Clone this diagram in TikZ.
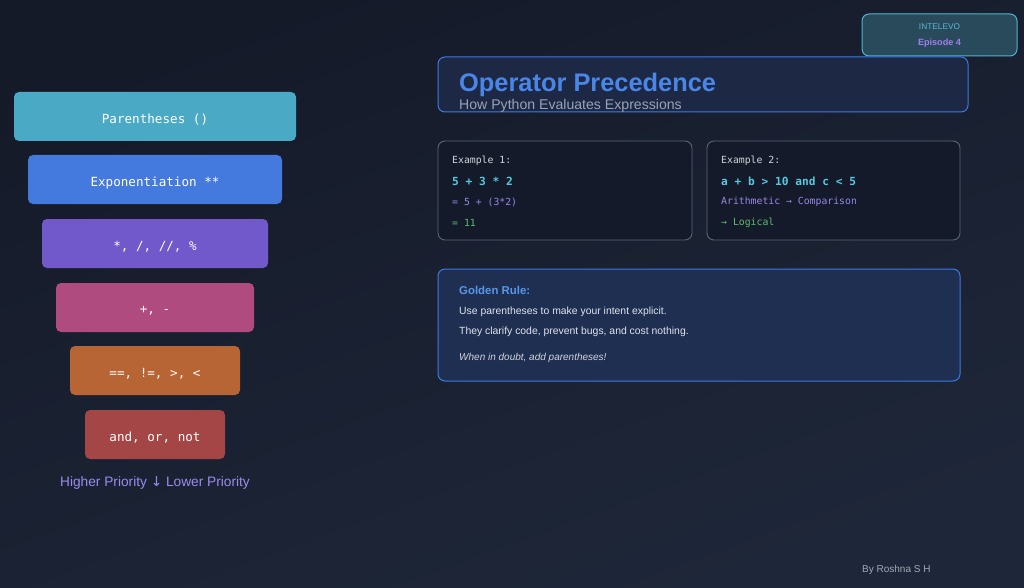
\documentclass[tikz,border=0pt]{standalone}
\usepackage{fontspec}
\setmainfont{Liberation Sans}
\newfontfamily\monof{DejaVu Sans Mono}
\newfontfamily\arrf{DejaVu Sans}
\definecolor{bgtop}{HTML}{151A29}
\definecolor{bgbot}{HTML}{1E2739}
\definecolor{cA}{HTML}{4AAAC6}
\definecolor{cB}{HTML}{4479DE}
\definecolor{cC}{HTML}{7159CC}
\definecolor{cD}{HTML}{B04B80}
\definecolor{cE}{HTML}{B86535}
\definecolor{cF}{HTML}{A44646}
\definecolor{lav}{HTML}{9A8CEE}
\definecolor{titlefill}{HTML}{1D2844}
\definecolor{blueedge}{HTML}{3D7BE0}
\definecolor{titleblue}{HTML}{4A86E8}
\definecolor{subgray}{HTML}{9AA3B3}
\definecolor{brandfill}{HTML}{284A5A}
\definecolor{brandedge}{HTML}{4CB8D0}
\definecolor{brandtext}{HTML}{5AB8CC}
\definecolor{epipurple}{HTML}{A07EF0}
\definecolor{exfill}{HTML}{141A2A}
\definecolor{exedge}{HTML}{5C6678}
\definecolor{exhead}{HTML}{D0D4DC}
\definecolor{excyan}{HTML}{56C8E0}
\definecolor{expurple}{HTML}{9A86E8}
\definecolor{exgreen}{HTML}{5CBC6C}
\definecolor{rulefill}{HTML}{1F2F52}
\definecolor{ruleblue}{HTML}{5A96E8}
\definecolor{ruletext}{HTML}{E0E4EC}
\definecolor{bytext}{HTML}{A0A8B8}
\tikzset{
  opbox/.style={rounded corners=5pt, minimum height=49pt, inner sep=0pt},
  optext/.style={text=white, inner sep=0pt, yshift=-3.5pt, font=\monof\fontsize{12.6}{14}\selectfont},
  panel/.style={rounded corners=7pt, line width=1pt, inner sep=0pt},
  txt/.style={anchor=west, inner sep=0pt},
}
\begin{document}
\begin{tikzpicture}[x=1pt,y=-1pt]
\useasboundingbox (0,0) rectangle (1024,588);
\shade[top color=bgtop, bottom color=bgbot, shading angle=20] (0,0) rectangle (1024,588);

% operator pyramid
\node[opbox, fill=cA, minimum width=282pt, label={[optext]center:Parentheses ()}] (p1) at (155,116.5) {};
\node[opbox, fill=cB, minimum width=254pt, label={[optext]center:Exponentiation **}] (p2) at (155,179.5) {};
\node[opbox, fill=cC, minimum width=226pt, label={[optext]center:{*, /, //, \%}}] (p3) at (155,243.5) {};
\node[opbox, fill=cD, minimum width=198pt, label={[optext]center:{+, -}}] (p4) at (155,307.5) {};
\node[opbox, fill=cE, minimum width=170pt, label={[optext]center:{==, !=, >, <}}] (p5) at (155,370.5) {};
\node[opbox, fill=cF, minimum width=140pt, label={[optext]center:{and, or, not}}] (p6) at (155,434.5) {};
\node[inner sep=0pt, text=lav, font=\fontsize{13.7}{16}\selectfont] (prio) at (155,483)
  {Higher Priority {\arrf↓} Lower Priority};

% brand
\node[panel, draw=brandedge, fill=brandfill, minimum width=155pt, minimum height=42pt] (brand) at (939.5,35) {};
\node[inner sep=0pt, text=brandtext, font=\fontsize{8.3}{10}\selectfont] (brandname) at (939.5,27) {INTELEVO};
\node[inner sep=0pt, text=epipurple, font=\bfseries\fontsize{9.1}{11}\selectfont] (episode) at (939.5,43) {Episode 4};

% title
\node[panel, draw=blueedge, fill=titlefill, minimum width=530pt, minimum height=55pt] (titlebox) at (703,84.5) {};
\node[txt, text=titleblue, font=\bfseries\fontsize{25.4}{30}\selectfont] (title) at (459,85) {Operator Precedence};
\node[txt, text=subgray, font=\fontsize{14.1}{16}\selectfont] (subtitle) at (459,105.5) {How Python Evaluates Expressions};

% examples
\node[panel, draw=exedge, fill=exfill, line width=0.9pt, minimum width=254pt, minimum height=99pt] (ex1) at (565,190.5) {};
\node[txt, text=exhead, font=\monof\fontsize{9.8}{12}\selectfont] (ex1h) at (452,160.5) {Example 1:};
\node[txt, text=excyan, font=\monof\bfseries\fontsize{11.2}{13}\selectfont] (ex1a) at (452,181) {5 + 3 * 2};
\node[txt, text=expurple, font=\monof\fontsize{9.8}{12}\selectfont] (ex1b) at (452,202) {= 5 + (3*2)};
\node[txt, text=exgreen, font=\monof\fontsize{9.8}{12}\selectfont] (ex1c) at (452,223) {= 11};

\node[panel, draw=exedge, fill=exfill, line width=0.9pt, minimum width=253pt, minimum height=99pt] (ex2) at (833.5,190.5) {};
\node[txt, text=exhead, font=\monof\fontsize{9.8}{12}\selectfont] (ex2h) at (721,160.5) {Example 2:};
\node[txt, text=excyan, font=\monof\bfseries\fontsize{11.2}{13}\selectfont] (ex2a) at (721,181) {a + b > 10 and c < 5};
\node[txt, text=expurple, font=\monof\fontsize{9.8}{12}\selectfont] (ex2b) at (721,202) {Arithmetic → Comparison};
\node[txt, text=exgreen, font=\monof\fontsize{9.8}{12}\selectfont] (ex2c) at (721,223) {→ Logical};

% golden rule
\node[panel, draw=blueedge, fill=rulefill, minimum width=522pt, minimum height=112pt] (rule) at (699,325) {};
\node[txt, text=ruleblue, font=\bfseries\fontsize{11.4}{13}\selectfont] (ruleh) at (459,290) {Golden Rule:};
\node[txt, text=ruletext, font=\fontsize{10.4}{12}\selectfont] (rule1) at (459,311.5) {Use parentheses to make your intent explicit.};
\node[txt, text=ruletext, font=\fontsize{10.4}{12}\selectfont] (rule2) at (459,331.5) {They clarify code, prevent bugs, and cost nothing.};
\node[txt, text=ruletext!85!gray, font=\itshape\fontsize{10}{12}\selectfont] (rule3) at (459,358) {When in doubt, add parentheses!};

% footer
\node[txt, text=bytext, font=\fontsize{10}{12}\selectfont] (by) at (862,570) {By Roshna S H};
\end{tikzpicture}
\end{document}
